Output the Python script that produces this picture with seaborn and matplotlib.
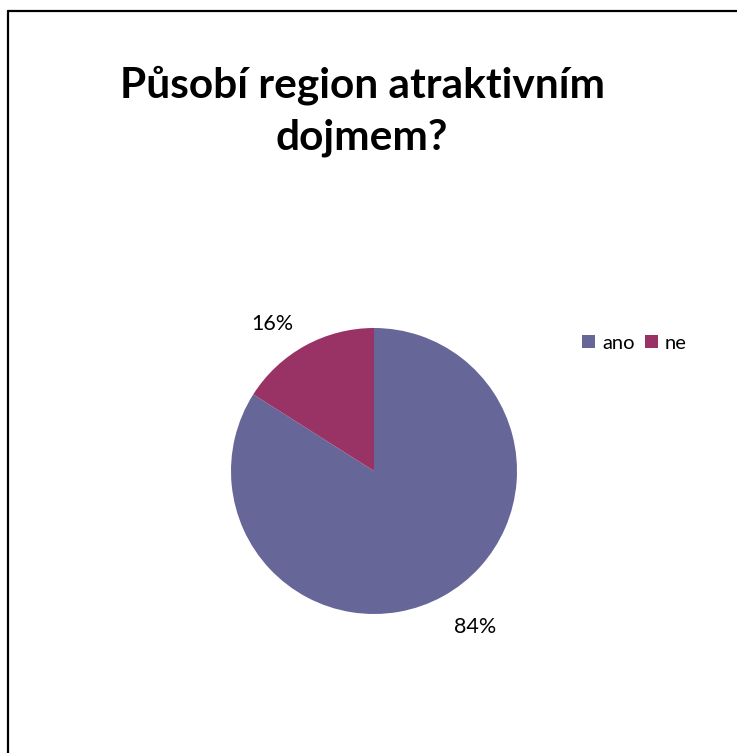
import matplotlib
matplotlib.use("Agg")
import matplotlib.pyplot as plt
from matplotlib.lines import Line2D
from matplotlib.patches import Patch
import numpy as np
import seaborn as sns

categories = ["ano", "ne"]
values = [84, 16]
colors = ["#666699", "#993366"]
title = "Působí region atraktivním\ndojmem?"

sns.set_style("white")
plt.rcParams["font.family"] = ["Lato", "DejaVu Sans"]
plt.rcParams["text.color"] = "black"

W, H = 737, 753
fig = plt.figure(figsize=(W / 100, H / 100), dpi=100)
fig.patch.set_facecolor("white")

cx, cy, R = 374, 471, 143
ax = fig.add_axes([(cx - R) / W, (H - cy - R) / H, 2 * R / W, 2 * R / H])
wedges, texts, autotexts = ax.pie(
    values, colors=colors, startangle=90, counterclock=False,
    autopct=lambda p: f"{p:.0f}%", pctdistance=1.28,
    textprops=dict(fontsize=15.5, color="black"),
    wedgeprops=dict(linewidth=0),
)
# label placement tweaks (angle offset in degrees, radial distance)
label_offsets = [(4.0, 1.30), (6.0, 1.25)]
for w, t, (da, dist) in zip(wedges, autotexts, label_offsets):
    ang = np.deg2rad((w.theta1 + w.theta2) / 2 + da)
    t.set_position((dist * np.cos(ang), dist * np.sin(ang)))
ax.set_xlim(-1, 1)
ax.set_ylim(-1, 1)
ax.set_aspect("equal")
ax.axis("off")

fig.text(362 / W, 1 - 111 / H, title, ha="center", va="center",
         fontsize=30.5, fontweight="bold", linespacing=1.45, color="black")

handles = [Patch(facecolor=c, edgecolor="none") for c in colors]
fig.legend(handles, categories, loc="center left",
           bbox_to_anchor=(572 / W, 1 - 343 / H), ncol=2, frameon=False,
           fontsize=14.5, handlelength=0.65, handleheight=0.65,
           handletextpad=0.35, columnspacing=0.5, borderpad=0,
           labelcolor="black")

fig.add_artist(Line2D([8 / W, 1], [1 - 11 / H, 1 - 11 / H], color="black",
                      lw=1.6, transform=fig.transFigure))
fig.add_artist(Line2D([8 / W, 8 / W], [0, 1 - 11 / H], color="black",
                      lw=1.6, transform=fig.transFigure))

fig.savefig("out.png", dpi=100)
